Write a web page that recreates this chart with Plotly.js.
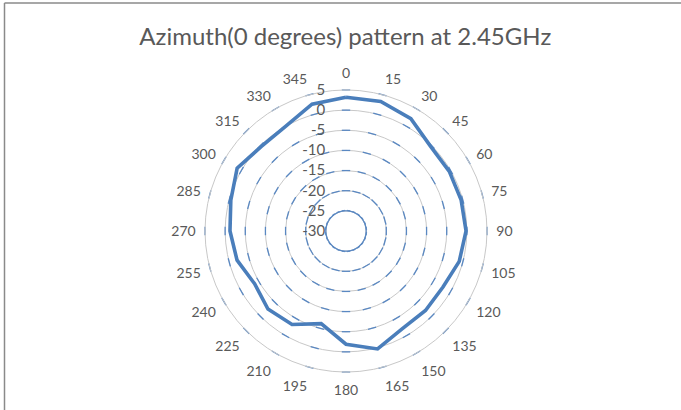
<!DOCTYPE html>
<html>
<head>
<meta charset="utf-8">
<script src="https://cdn.plot.ly/plotly-3.0.1.min.js"></script>
<style>
html,body{margin:0;padding:0;background:#fff;}
#chart{width:681px;height:410px;}
</style>
</head>
<body>
<div id="chart"></div>
<script>
// Data
var angles = ["0","15","30","45","60","75","90","105","120","135","150","165",
              "180","195","210","225","240","255","270","285","300","315","330","345"];
var gainDb = [3.2, 3.3, 2.2, -0.3, -0.4, -0.4, -0.2, -0.9, -2.2, -2.1, -2.0, 0.3,
              -1.9, -6.2, -3.2, -2.6, -3.8, -2.0, -1.2, -0.4, 1.2, -0.3, 0.0, 2.6];
var radialTicks = [-30, -25, -20, -15, -10, -5, 0, 5];
var titleText = "Azimuth(0 degrees) pattern at 2.45GHz";

// closed polygon for the series
var thetaClosed = angles.concat([angles[0]]);
var rClosed = gainDb.concat([gainDb[0]]);

// small tangential tick marks on each grid ring at each category
var tickR = [], tickT = [], tickA = [];
radialTicks.forEach(function (v) {
  if (v === radialTicks[0]) return;
  angles.forEach(function (a) {
    tickR.push(v); tickT.push(a); tickA.push(parseFloat(a));
  });
});

var W = 681, H = 410;
var cx = 346, cy = 231, R = 141;

var traces = [
  {
    type: "scatterpolar", mode: "markers",
    r: tickR, theta: tickT, hoverinfo: "skip", showlegend: false,
    marker: { symbol: "line-ew", size: 6, angle: tickA,
              line: { color: "#5a88c2", width: 1.3 }, color: "#5a88c2" }
  },
  {
    type: "scatterpolar", mode: "lines",
    r: rClosed, theta: thetaClosed, showlegend: false,
    line: { color: "#4a7ebb", width: 3.6 }
  }
];

var layout = {
  width: W, height: H,
  margin: { l: 0, r: 0, t: 0, b: 0 },
  paper_bgcolor: "#ffffff",
  showlegend: false,
  font: { family: "Lato, 'Open Sans', sans-serif", color: "#595959", size: 14 },
  title: {
    text: titleText,
    font: { family: "Lato, 'Open Sans', sans-serif", size: 24, color: "#595959" },
    x: 0.507, xanchor: "center", y: 1 - 37 / H, yanchor: "middle"
  },
  polar: {
    domain: { x: [(cx - R) / W, (cx + R) / W], y: [1 - (cy + R) / H, 1 - (cy - R) / H] },
    bgcolor: "rgba(0,0,0,0)",
    angularaxis: {
      type: "category", categoryarray: angles,
      rotation: 90, direction: "clockwise",
      showgrid: false, showline: true, linecolor: "#c8c8c8", linewidth: 1,
      ticks: "outside", ticklen: 6, tickcolor: "rgba(0,0,0,0)",
      tickfont: { size: 14, color: "#595959" }
    },
    radialaxis: {
      range: [radialTicks[0], radialTicks[radialTicks.length - 1]],
      tickvals: radialTicks, ticktext: radialTicks.map(String),
      angle: 90, tickangle: 90, side: "counterclockwise",
      showline: false, ticks: "outside", ticklen: 15, tickcolor: "rgba(0,0,0,0)",
      gridcolor: "#c8c8c8", gridwidth: 1,
      tickfont: { size: 15, color: "#595959" }
    }
  },
  shapes: [
    { type: "line", xref: "paper", yref: "paper", x0: 4.5 / W, x1: 1, y0: 1 - 3 / H, y1: 1 - 3 / H,
      line: { color: "#8a8a8a", width: 1.5 } },
    { type: "line", xref: "paper", yref: "paper", x0: 4.5 / W, x1: 4.5 / W, y0: 0, y1: 1 - 3 / H,
      line: { color: "#8a8a8a", width: 1.5 } }
  ]
};

Plotly.newPlot("chart", traces, layout, { staticPlot: true, displayModeBar: false });
</script>
</body>
</html>
